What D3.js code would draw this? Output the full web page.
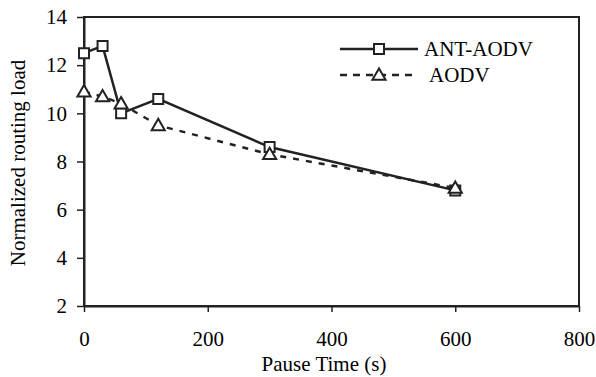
<!DOCTYPE html>
<html><head><meta charset="utf-8">
<script src="https://cdn.jsdelivr.net/npm/d3@7"></script>
<style>body{margin:0;background:#fff}svg{display:block}svg text{font-family:"Liberation Serif","Times New Roman",serif !important;fill:#000}</style>
</head><body><svg id="c" width="596" height="377"></svg>
<script>
const pauseTimes = [0, 30, 60, 120, 300, 600];
const antAodv = [12.5, 12.8, 10.0, 10.6, 8.6, 6.8];
const aodv = [10.9, 10.7, 10.4, 9.5, 8.3, 6.9];
const seriesNames = ["ANT-AODV", "AODV"];
const xTicks = [0, 200, 400, 600, 800];
const yTicks = [2, 4, 6, 8, 10, 12, 14];

const svg = d3.select("#c");
const L = 84, R = 579, T = 17, B = 306;
const x = d3.scaleLinear().domain([0, 800]).range([L, R]);
const y = d3.scaleLinear().domain([2, 14]).range([B, T]);
const ink = "#222";
const FS = 21;

svg.append("rect").attr("x", L).attr("y", T).attr("width", R - L).attr("height", B - T)
  .attr("fill", "none").attr("stroke", ink).attr("stroke-width", 2);

const xAxis = svg.append("g").attr("transform", `translate(0,${B})`)
  .call(d3.axisBottom(x).tickValues(xTicks).tickSize(6).tickSizeOuter(0).tickPadding(19));
const yAxis = svg.append("g").attr("transform", `translate(${L},0)`)
  .call(d3.axisLeft(y).tickValues(yTicks).tickSize(7).tickSizeOuter(0).tickPadding(10));
[xAxis, yAxis].forEach(g => {
  g.attr("font-family", null).attr("font-size", null);
  g.select(".domain").attr("stroke", ink).attr("stroke-width", 2);
  g.selectAll(".tick line").attr("stroke", ink).attr("stroke-width", 1.5);
  g.selectAll(".tick text").style("font-size", FS + "px").attr("fill", "#000");
});

svg.append("text").attr("x", 324).attr("y", 371).attr("text-anchor", "middle").style("font-size", FS + "px").text("Pause Time (s)");
svg.append("text").attr("transform", "translate(25,163) rotate(-90)").attr("text-anchor", "middle").style("font-size", FS + "px").text("Normalized routing load");

const line = d3.line().x(d => x(d[0])).y(d => y(d[1]));
const d1 = pauseTimes.map((t, i) => [t, antAodv[i]]);
const d2 = pauseTimes.map((t, i) => [t, aodv[i]]);

svg.append("path").attr("d", line(d1)).attr("fill", "none").attr("stroke", ink).attr("stroke-width", 2.5);
svg.append("path").attr("d", line(d2)).attr("fill", "none").attr("stroke", ink).attr("stroke-width", 2.5).attr("stroke-dasharray", "6,7");

const sq = d3.symbol().type(d3.symbolSquare).size(100);
const tri = d3.symbol().type(d3.symbolTriangle).size(75);

svg.selectAll(".sq").data(d1).join("path").attr("class", "sq")
  .attr("transform", d => `translate(${x(d[0])},${y(d[1])})`).attr("d", sq)
  .attr("fill", "#fff").attr("stroke", ink).attr("stroke-width", 2);
svg.selectAll(".tri").data(d2).join("path").attr("class", "tri")
  .attr("transform", d => `translate(${x(d[0])},${y(d[1]) + 1})`).attr("d", tri)
  .attr("fill", "#fff").attr("stroke", ink).attr("stroke-width", 2);

const lg = svg.append("g");
[0, 1].forEach(i => {
  const ly = i === 0 ? 49 : 75;
  lg.append("line").attr("x1", 340).attr("x2", 418).attr("y1", ly).attr("y2", ly)
    .attr("stroke", ink).attr("stroke-width", 2.5).attr("stroke-dasharray", i === 1 ? "7,6" : null);
  lg.append("path").attr("transform", `translate(379,${ly + (i ? 1 : 0)})`).attr("d", i === 0 ? sq : tri)
    .attr("fill", "#fff").attr("stroke", ink).attr("stroke-width", 2);
  lg.append("text").attr("x", i === 0 ? 424 : 429).attr("y", ly + 7).style("font-size", FS + "px").text(seriesNames[i]);
});
</script></body></html>
